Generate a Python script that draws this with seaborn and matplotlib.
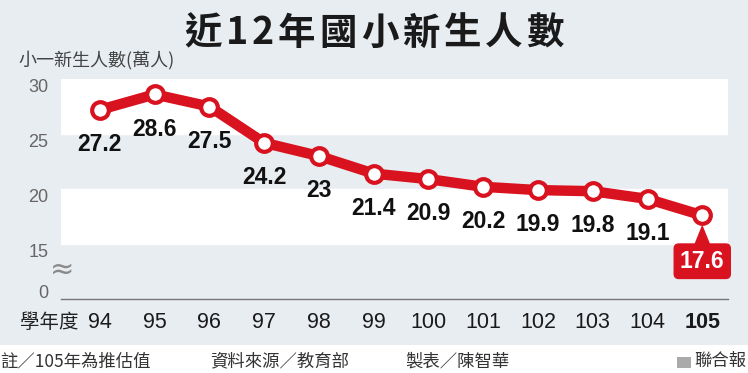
import matplotlib
matplotlib.use('Agg')
import matplotlib.pyplot as plt
import seaborn as sns
import pandas as pd

years = ['94', '95', '96', '97', '98', '99', '100', '101', '102', '103', '104', '105']
students = [27.2, 28.6, 27.5, 24.2, 23, 21.4, 20.9, 20.2, 19.9, 19.8, 19.1, 17.6]
value_labels = ['27.2', '28.6', '27.5', '24.2', '23', '21.4', '20.9', '20.2', '19.9', '19.8', '19.1', '17.6']
ytick_vals = [15, 20, 25, 30]
title = '近12年國小新生人數'

df = pd.DataFrame({'pos': range(len(years)), 'year': years, 'n': students})

sns.set_style('white')
plt.rcParams['font.family'] = ['Noto Sans CJK TC', 'DejaVu Sans']

bg = '#e8edf2'
red = '#d9121f'

fig = plt.figure(figsize=(7.48, 3.73), dpi=100, facecolor=bg)
W, H = 748, 373
# white footer strip
fig.patches.append(plt.Rectangle((0, 0), 1, 28 / H, transform=fig.transFigure,
                                 facecolor='white', edgecolor='none', zorder=0))

ax = fig.add_axes([61 / W, (H - 299) / H, (728 - 61) / W, 220 / H])
ax.set_facecolor(bg)
ax.set_xlim(-0.71, 11.47)
ax.set_ylim(10, 30)
ax.axhspan(25, 30, color='white', zorder=0)
ax.axhspan(15, 20, color='white', zorder=0)

sns.lineplot(data=df, x='pos', y='n', ax=ax, color=red, linewidth=7.5,
             marker='o', markersize=12, markerfacecolor='white',
             markeredgecolor=red, markeredgewidth=3, clip_on=False, zorder=5)

num_font = ['Liberation Sans', 'DejaVu Sans']
for i, (v, lab) in enumerate(zip(students, value_labels)):
    if i == len(students) - 1:
        ax.annotate(lab, xy=(i, v), xytext=(0, -33), textcoords='offset points',
                    ha='center', va='center', fontsize=16.5, fontweight='bold',
                    color='white', family=num_font,
                    bbox=dict(boxstyle='round,pad=0.25,rounding_size=0.2', fc=red, ec=red),
                    arrowprops=dict(arrowstyle='wedge,tail_width=0.6', fc=red, ec=red,
                                    shrinkA=0, shrinkB=8), zorder=6)
    else:
        ax.annotate(lab, xy=(i, v), xytext=(0, -25), textcoords='offset points',
                    ha='center', va='center', fontsize=16.5, fontweight='bold',
                    color='#111111', family=num_font, zorder=6)

# axes styling
for s in ['top', 'right', 'left']:
    ax.spines[s].set_visible(False)
ax.spines['bottom'].set_color('#777777')
ax.spines['bottom'].set_linewidth(1)
ax.set_xlabel('')
ax.set_ylabel('')
ax.set_xticks(range(len(years)))
ax.set_xticklabels(years, fontsize=15.5, color='#1a1a1a', family=num_font)
ax.get_xticklabels()[-1].set_fontweight('bold')
ax.tick_params(axis='x', direction='in', length=5, width=1, color='#777777', pad=9)
ax.set_yticks([11.3] + ytick_vals)
ax.set_yticklabels(['0'] + [str(v) for v in ytick_vals], fontsize=13, color='#666666',
                   family=num_font, va='top')
ax.tick_params(axis='y', length=0, pad=9)

# axis break mark
fig.text(62 / W, 1 - 270 / H, '≈', ha='center', va='center', fontsize=21,
         color='#8a8a8a', family=['DejaVu Sans'])

# title, spread to the reference width
renderer = fig.canvas.get_renderer()
parts = []
total = 0
for ch in title:
    t = fig.text(0, 1 - 33 / H, ch, ha='left', va='center', fontsize=27,
                 fontweight='bold', color='#1a1a1a')
    w = t.get_window_extent(renderer).width
    parts.append((t, w))
    total += w
target = 380
track = max(0, (target - total) / (len(title) - 1))
x = 374 - (total + track * (len(title) - 1)) / 2
for t, w in parts:
    t.set_x(x / W)
    x += w + track

fig.text(18 / W, 1 - 60 / H, '小一新生人數(萬人)', ha='left', va='center',
         fontsize=13, color='#444444')
fig.text(20 / W, 1 - 322 / H, '學年度', ha='left', va='center', fontsize=14, color='#222222')

foot = '#333333'
fig.text(0, 1 - 361 / H, '註／105年為推估值', ha='left', va='center', fontsize=12.5, color=foot)
fig.text(210 / W, 1 - 361 / H, '資料來源／教育部', ha='left', va='center', fontsize=12.5, color=foot)
fig.text(405 / W, 1 - 361 / H, '製表／陳智華', ha='left', va='center', fontsize=12.5, color=foot)
fig.text(746 / W, 1 - 361 / H, '聯合報', ha='right', va='center', fontsize=12.5, color=foot)
fig.patches.append(plt.Rectangle((677 / W, (H - 368) / H), 14 / W, 11 / H,
                                 transform=fig.transFigure, facecolor='#aaaaaa',
                                 edgecolor='none'))

fig.savefig('out.png', dpi=100, facecolor=bg)
